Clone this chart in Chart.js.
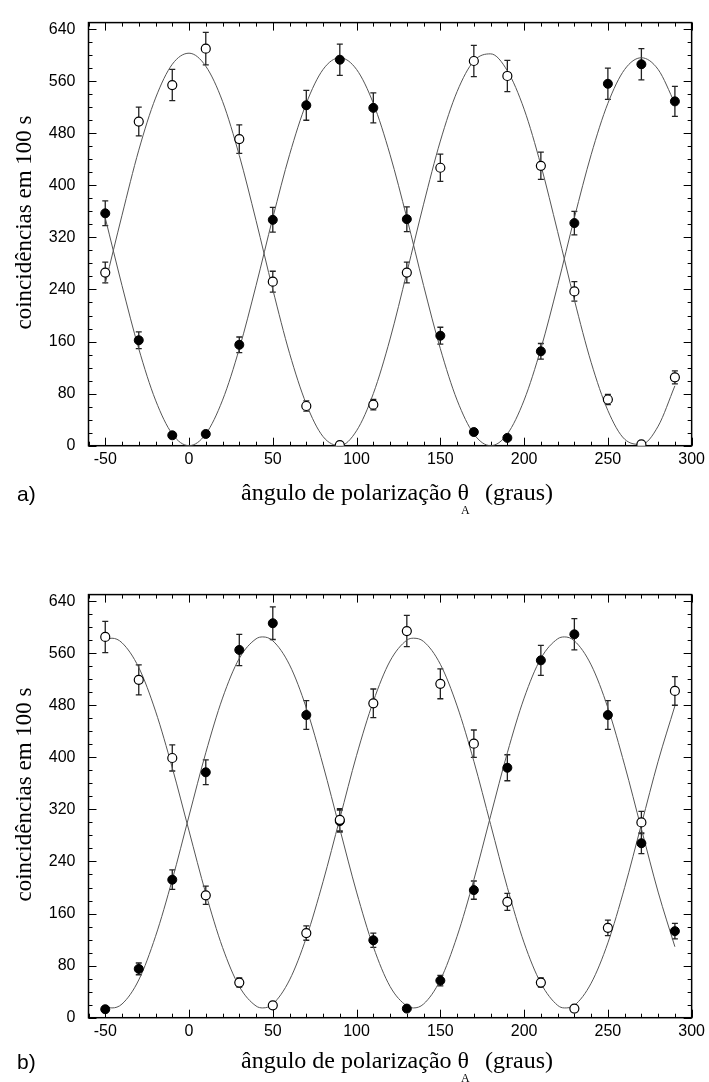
<!DOCTYPE html>
<html>
<head>
<meta charset="utf-8">
<script src="https://cdn.jsdelivr.net/npm/chart.js@4"></script>
<style>
  html, body { margin: 0; padding: 0; background: #fff; overflow: hidden; }
  canvas { position: absolute; left: 0; }
  #chartA { top: 0; }
  #chartB { top: 572px; }
</style>
</head>
<body>
<canvas id="chartA" width="709" height="572"></canvas>
<canvas id="chartB" width="709" height="572"></canvas>
<script>
// polarizer angles where coincidences were counted
const angles = [-50, -30, -10, 10, 30, 50, 70, 90, 110, 130, 150, 170, 190, 210, 230, 250, 270, 290];

// a) counts and uncertainties
const openA = [266, 498, 554, 610, 471, 252, 61, 1, 63, 266, 427, 591, 568, 430, 237, 71, 2, 105];
const openErrA = [16, 22, 24, 25, 22, 16, 8, 1, 8, 16, 21, 24, 24, 21, 15, 8, 1, 10];
const filledA = [357, 162, 16, 18, 155, 347, 523, 593, 519, 348, 169, 21, 12, 145, 342, 556, 586, 529];
const filledErrA = [19, 13, 4, 4, 12, 19, 23, 24, 23, 19, 13, 5, 3, 12, 18, 24, 24, 23];

// a) fitted curves
const fitAnglesA = [-50, -40, -30, -20, -10, 0, 10, 20, 30, 40, 50, 60, 70, 80, 90, 100, 110, 120,
  130, 140, 150, 160, 170, 180, 190, 200, 210, 220, 230, 240, 250, 260, 270, 280, 290];
const fitOpenA = [249, 354, 454, 534, 586, 603, 583, 529, 446, 346, 240, 142, 64, 14, 0, 23, 80, 164,
  266, 371, 468, 544, 591, 602, 576, 517, 431, 329, 224, 128, 54, 10, 2, 30, 92];
const fitFilledA = [350, 246, 149, 70, 18, 0, 18, 70, 149, 246, 350, 447, 526, 578, 596, 578, 526, 447,
  350, 246, 149, 70, 18, 0, 18, 70, 149, 246, 350, 447, 526, 578, 596, 578, 526];

// b) counts and uncertainties
const openB = [585, 519, 399, 188, 54, 19, 130, 304, 483, 594, 513, 421, 178, 54, 14, 138, 300, 502];
const openErrB = [24, 23, 20, 14, 7, 4, 11, 17, 22, 24, 23, 21, 13, 7, 4, 12, 17, 22];
const filledB = [13, 75, 212, 377, 565, 606, 465, 302, 119, 14, 57, 196, 384, 549, 589, 465, 268, 133];
const filledErrB = [4, 9, 15, 19, 24, 25, 22, 17, 11, 4, 8, 14, 20, 23, 24, 22, 16, 12];

// b) fitted curves
const fitAnglesB = [-50, -46, -40, -30, -20, -10, 0, 10, 20, 30, 40, 44, 50, 60, 70, 80, 90, 100, 110,
  120, 130, 134, 140, 150, 160, 170, 180, 190, 200, 210, 220, 224, 230, 240, 250, 260, 270, 280, 290];
const fitOpenB = [581, 583, 576, 538, 471, 384, 287, 191, 108, 48, 18, 15, 21, 58, 123, 209, 306, 403, 486,
  548, 580, 583, 578, 543, 479, 394, 297, 200, 115, 53, 19, 15, 19, 53, 115, 200, 297, 394, 479];
const fitFilledB = [18, 15, 21, 58, 125, 212, 310, 407, 491, 552, 582, 585, 579, 542, 476, 388, 290, 193, 109,
  48, 18, 15, 21, 58, 125, 212, 310, 407, 491, 552, 582, 585, 579, 542, 476, 388, 290, 193, 109];

const xTicks = [-50, 0, 50, 100, 150, 200, 250, 300];
const yTicks = [0, 80, 160, 240, 320, 400, 480, 560, 640];

Chart.defaults.font.family = '"Liberation Sans", Arial, sans-serif';
Chart.defaults.color = '#000';

const points = (xs, ys) => xs.map((x, i) => ({ x, y: ys[i] }));

// box, inward ticks and error bars, under the markers
const framePlugin = {
  id: 'frame',
  beforeDatasetsDraw(chart) {
    const { ctx, chartArea: a, scales: { x, y } } = chart;
    ctx.save();
    ctx.strokeStyle = '#000';
    ctx.lineWidth = 1;
    ctx.beginPath();
    for (let v = -60; v <= 300; v += 10) {
      const px = Math.round(x.getPixelForValue(v)) + 0.5;
      const len = v % 50 === 0 ? 8 : 4;
      ctx.moveTo(px, a.bottom); ctx.lineTo(px, a.bottom - len);
      ctx.moveTo(px, a.top); ctx.lineTo(px, a.top + len);
    }
    for (let v = 0; v <= 640; v += 20) {
      const py = Math.round(y.getPixelForValue(v)) + 0.5;
      const len = v % 80 === 0 ? 8 : 4;
      ctx.moveTo(a.left, py); ctx.lineTo(a.left + len, py);
      ctx.moveTo(a.right, py); ctx.lineTo(a.right - len, py);
    }
    ctx.stroke();
    ctx.lineWidth = 1.5;
    ctx.strokeRect(a.left, a.top, a.right - a.left, a.bottom - a.top);

    ctx.strokeStyle = '#222';
    ctx.lineWidth = 1.3;
    ctx.beginPath();
    chart.data.datasets.forEach(ds => {
      if (!ds.errors) return;
      ds.data.forEach((p, i) => {
        const px = x.getPixelForValue(p.x);
        const top = y.getPixelForValue(p.y + ds.errors[i]);
        const bot = y.getPixelForValue(p.y - ds.errors[i]);
        ctx.moveTo(px, top); ctx.lineTo(px, bot);
        ctx.moveTo(px - 3, top); ctx.lineTo(px + 3, top);
        ctx.moveTo(px - 3, bot); ctx.lineTo(px + 3, bot);
      });
    });
    ctx.stroke();
    ctx.restore();
  }
};

// axis titles (with the subscript) and the panel letter
const titlePlugin = {
  id: 'titles',
  afterDraw(chart, args, opts) {
    const ctx = chart.ctx;
    ctx.save();
    ctx.fillStyle = '#000';
    ctx.textBaseline = 'alphabetic';

    ctx.font = '24px "Liberation Serif", "Times New Roman", serif';
    const head = 'ângulo de polarização θ';
    const tail = '(graus)';
    const wHead = ctx.measureText(head).width;
    const wTail = ctx.measureText(tail).width;
    const gap = 16;
    const x0 = 397 - (wHead + gap + wTail) / 2;
    ctx.textAlign = 'left';
    ctx.fillText(head, x0, opts.titleY);
    ctx.fillText(tail, x0 + wHead + gap, opts.titleY);
    ctx.font = '12px "Liberation Serif", "Times New Roman", serif';
    ctx.fillText('A', x0 + wHead - 8, opts.titleY + 14);

    ctx.save();
    ctx.font = '23px "Liberation Serif", "Times New Roman", serif';
    ctx.translate(31, 222.5);
    ctx.rotate(-Math.PI / 2);
    ctx.textAlign = 'center';
    ctx.fillText('coincidências em 100 s', 0, 0);
    ctx.restore();

    ctx.font = '21px "Liberation Sans", Arial, sans-serif';
    ctx.textAlign = 'left';
    ctx.fillText(opts.panel, 17, opts.panelY);
    ctx.restore();
  }
};

function makeChart(id, open, openErr, filled, filledErr, fitX, fitOpen, fitFilled, titles) {
  const curve = ys => ({
    type: 'line',
    data: points(fitX, ys),
    borderColor: '#555',
    borderWidth: 1,
    pointRadius: 0,
    fill: false,
    cubicInterpolationMode: 'monotone',
    order: 3
  });
  new Chart(document.getElementById(id), {
    type: 'scatter',
    data: {
      datasets: [
        {
          data: points(angles, open),
          errors: openErr,
          pointRadius: 4.5,
          pointBackgroundColor: '#fff',
          pointBorderColor: '#000',
          pointBorderWidth: 1.2,
          order: 1
        },
        {
          data: points(angles, filled),
          errors: filledErr,
          pointRadius: 4.5,
          pointBackgroundColor: '#000',
          pointBorderColor: '#000',
          pointBorderWidth: 1,
          order: 2
        },
        curve(fitOpen),
        curve(fitFilled)
      ]
    },
    options: {
      responsive: false,
      animation: false,
      events: [],
      layout: { padding: { top: 18.3, right: 15.8, left: 0, bottom: 0 } },
      plugins: {
        legend: { display: false },
        tooltip: { enabled: false },
        titles
      },
      scales: {
        x: {
          type: 'linear',
          min: -60,
          max: 300,
          grid: { display: false, drawTicks: false },
          border: { display: false },
          afterBuildTicks: s => { s.ticks = xTicks.map(v => ({ value: v })); },
          afterFit: s => { s.height = 126.3; },
          ticks: { font: { size: 16 }, padding: 4, maxRotation: 0, autoSkip: false }
        },
        y: {
          min: 0,
          max: 650,
          grid: { display: false, drawTicks: false },
          border: { display: false },
          afterBuildTicks: s => { s.ticks = yTicks.map(v => ({ value: v })); },
          afterFit: s => { s.width = 88.5; },
          ticks: { font: { size: 16 }, padding: 13, autoSkip: false }
        }
      }
    },
    plugins: [framePlugin, titlePlugin]
  });
}

makeChart('chartA', openA, openErrA, filledA, filledErrA, fitAnglesA, fitOpenA, fitFilledA,
  { panel: 'a)', titleY: 500, panelY: 501 });
makeChart('chartB', openB, openErrB, filledB, filledErrB, fitAnglesB, fitOpenB, fitFilledB,
  { panel: 'b)', titleY: 496, panelY: 497 });
</script>
</body>
</html>
